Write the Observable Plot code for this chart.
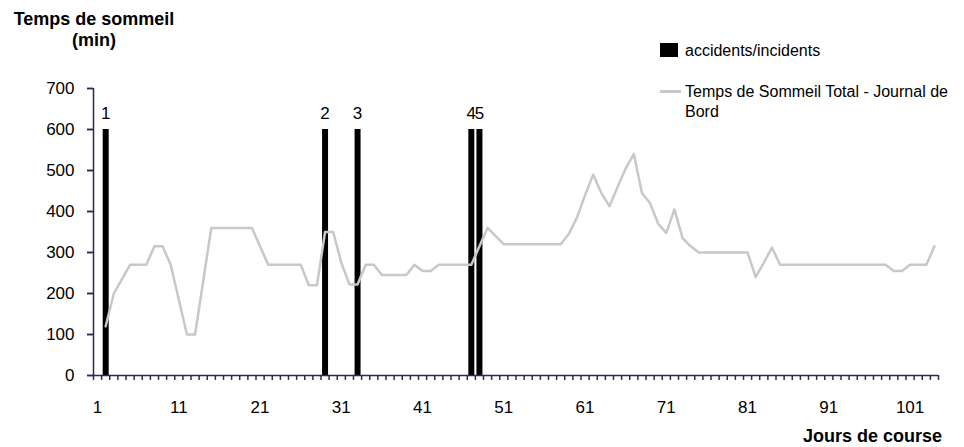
<!DOCTYPE html>
<html><head><meta charset="utf-8">
<script src="https://cdn.jsdelivr.net/npm/d3@7"></script>
<script src="https://cdn.jsdelivr.net/npm/@observablehq/plot@0.6"></script>
<style>
body{margin:0;background:#fff;}
#wrap{position:relative;width:964px;height:447px;font-family:"Liberation Sans",Arial,sans-serif;color:#000;}
.t{position:absolute;white-space:nowrap;}
</style></head><body><div id="wrap"></div>
<script>
// ---- data ----
const firstDay = 2;
const lastCategory = 104;
const sleepMinutes = [
  120, 200, 235, 270, 270, 270, 315, 315, 270, 185,   // days 2-11
  100, 100, 230, 360, 360, 360, 360, 360, 360, 315,   // days 12-21
  270, 270, 270, 270, 270, 220, 220, 350, 350, 275,   // days 22-31
  222, 222, 270, 270, 245, 245, 245, 245, 270, 255,   // days 32-41
  255, 270, 270, 270, 270, 270, 315, 360, 340, 320,   // days 42-51
  320, 320, 320, 320, 320, 320, 320, 345, 385, 440,   // days 52-61
  490, 445, 413, 460, 505, 540, 445, 420, 370, 348,   // days 62-71
  405, 335, 315, 300, 300, 300, 300, 300, 300, 300,   // days 72-81
  240, 275, 312, 270, 270, 270, 270, 270, 270, 270,   // days 82-91
  270, 270, 270, 270, 270, 270, 270, 255, 255, 270,   // days 92-101
  270, 270, 315                                       // days 102-104
];
const accidentDays = [2, 29, 33, 47, 48];
const accidentLabels = ["1", "2", "3", "4", "5"];
const accidentHeight = [600, 600, 600, 600, 600];
const xTickLabels = [1, 11, 21, 31, 41, 51, 61, 71, 81, 91, 101];
const yTicks = [0, 100, 200, 300, 400, 500, 600, 700];
const yTitle = ["Temps de sommeil", "(min)"];
const xTitle = "Jours de course";
const legendLabels = ["accidents/incidents", "Temps de Sommeil Total - Journal de", "Bord"];

// ---- build ----
const sleep = sleepMinutes.map((v, i) => ({day: firstDay + i, min: v}));
const acc = accidentDays.map((d, i) => ({day: d, h: accidentHeight[i], label: accidentLabels[i]}));
const boundaries = d3.range(0.5, lastCategory + 1, 1);
const xMin = 0.5, xMax = lastCategory + 0.5;
const font = '"Liberation Sans", Arial, sans-serif';
// tick lengths expressed in the scales' units (~5-6 px)
const xTickLen = 12;     // minutes
const yTickLen = 0.74;   // days
const axisColor = "#2a2a55";

const chart = Plot.plot({
  width: 964, height: 447,
  marginLeft: 93, marginRight: 26, marginTop: 88, marginBottom: 72,
  style: {fontFamily: font, fontSize: "17px", background: "#fff"},
  x: {domain: [xMin, xMax], axis: null},
  y: {domain: [0, 700], axis: null},
  marks: [
    Plot.ruleX(acc, {x: "day", y1: 0, y2: "h", stroke: "#000", strokeWidth: 6}),
    Plot.line(sleep, {x: "day", y: "min", stroke: "#c8c8c8", strokeWidth: 2.5}),
    Plot.text(acc, {x: "day", y: "h", text: "label", lineAnchor: "bottom", dy: -11, fontSize: 17, fill: "#000"}),
    Plot.axisY({ticks: yTicks, tickSize: 6, tickPadding: 13, label: null, fontSize: 17, stroke: axisColor, strokeWidth: 1.5}),
    Plot.axisX({ticks: xTickLabels, tickSize: 0, tickPadding: 25, label: null, fontSize: 17}),
    Plot.ruleX(boundaries, {x: d => d, y1: 0, y2: -xTickLen, stroke: axisColor, strokeWidth: 1.5}),
    Plot.ruleY(yTicks, {y: d => d, x1: xMin - yTickLen, x2: xMin, stroke: axisColor, strokeWidth: 1.5}),
    Plot.ruleX([xMin], {y1: 0, y2: 700, stroke: axisColor, strokeWidth: 1.5}),
    Plot.ruleY([0], {stroke: axisColor, strokeWidth: 1.5})
  ]
});

const wrap = document.getElementById("wrap");
wrap.appendChild(chart);
chart.style.position = "absolute";
chart.style.left = "0px";
chart.style.top = "0px";

function addText(txt, css) {
  const d = document.createElement("div");
  d.className = "t";
  d.innerHTML = txt;
  Object.assign(d.style, css);
  wrap.appendChild(d);
  return d;
}
addText(yTitle.join("<br>"), {left: "0px", width: "188px", textAlign: "center", top: "9px",
  fontSize: "18px", fontWeight: "bold", lineHeight: "21px"});
addText(xTitle, {right: "22px", top: "426px", fontSize: "18px", fontWeight: "bold", lineHeight: "21px"});

// legend
const sw = document.createElement("div");
Object.assign(sw.style, {position: "absolute", left: "660px", top: "43px", width: "18px", height: "14px", background: "#000"});
wrap.appendChild(sw);
addText(legendLabels[0], {left: "685px", top: "41px", fontSize: "16px", lineHeight: "19px"});
const ln = document.createElement("div");
Object.assign(ln.style, {position: "absolute", left: "660px", top: "90px", width: "21px", height: "2.5px", background: "#c8c8c8"});
wrap.appendChild(ln);
addText(legendLabels[1] + "<br>" + legendLabels[2], {left: "685px", top: "82px", fontSize: "16px", lineHeight: "19.5px"});
</script></body></html>
